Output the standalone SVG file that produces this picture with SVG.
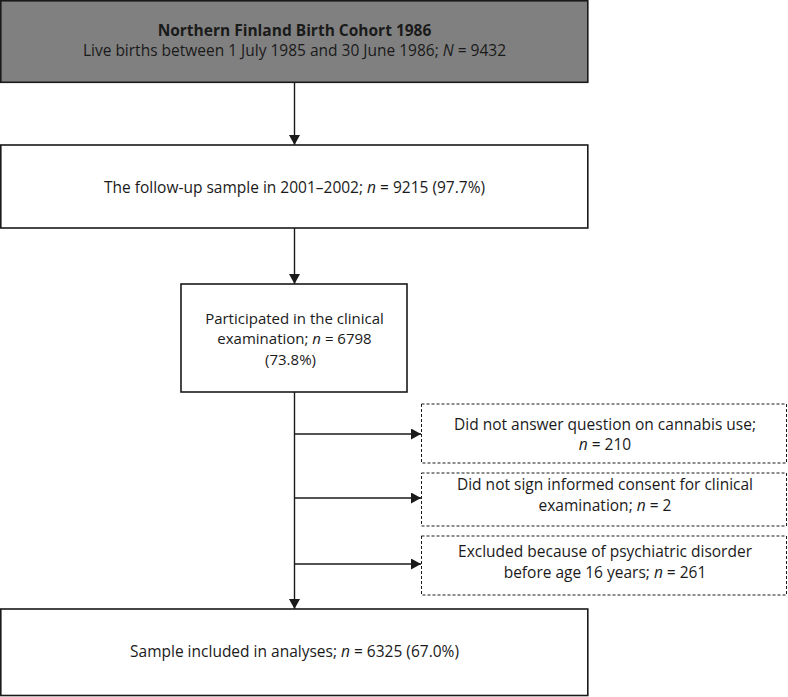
<svg xmlns="http://www.w3.org/2000/svg" width="788" height="697" viewBox="0 0 788 697">
<style>
  text { font-family: "Open Sans", "Liberation Sans", sans-serif; font-size: 15.5px; fill: #1a1a1a; text-anchor: middle; }
  .bold { font-weight: bold; }
  .small { font-size: 15px; }
  .box { fill: #ffffff; stroke: #1a1a1a; stroke-width: 1.6; }
  .grey { fill: #808080; stroke: #1a1a1a; stroke-width: 1.6; }
  .dash { fill: #ffffff; stroke: #1a1a1a; stroke-width: 1; stroke-dasharray: 3 2; }
  .conn { fill: none; stroke: #1a1a1a; stroke-width: 1.4; }
  .it { font-style: italic; }
</style>
<defs>
  <marker id="arr" markerUnits="userSpaceOnUse" markerWidth="10" markerHeight="11" refX="10" refY="5.5" orient="auto">
    <path d="M0,0 L10,5.5 L0,11 z" fill="#1a1a1a"/>
  </marker>
</defs>
<rect width="788" height="697" fill="#ffffff"/>

<g id="connectors">
  <line class="conn" x1="294.5" y1="82" x2="294.5" y2="145" marker-end="url(#arr)"/>
  <line class="conn" x1="294.5" y1="228" x2="294.5" y2="284" marker-end="url(#arr)"/>
  <line class="conn" x1="294.5" y1="392" x2="294.5" y2="609" marker-end="url(#arr)"/>
  <line class="conn" x1="294.5" y1="434" x2="421" y2="434" marker-end="url(#arr)"/>
  <line class="conn" x1="294.5" y1="498" x2="421" y2="498" marker-end="url(#arr)"/>
  <line class="conn" x1="294.5" y1="564" x2="421" y2="564" marker-end="url(#arr)"/>
</g>

<g id="node-cohort">
  <rect class="grey" x="0.8" y="0.8" width="587" height="81.5"/>
  <text class="bold" x="294.5" y="36">Northern Finland Birth Cohort 1986</text>
  <text x="294.5" y="56">Live births between 1 July 1985 and 30 June 1986; <tspan class="it">N</tspan> = 9432</text>
</g>

<g id="node-followup">
  <rect class="box" x="0.8" y="145" width="587" height="83"/>
  <text x="294.5" y="193">The follow-up sample in 2001–2002; <tspan class="it">n</tspan> = 9215 (97.7%)</text>
</g>

<g id="node-clinical">
  <rect class="box" x="181" y="284" width="226" height="108"/>
  <text class="small" x="294.5" y="323.5">Participated in the clinical</text>
  <text class="small" x="294.5" y="344">examination; <tspan class="it">n</tspan> = 6798</text>
  <text class="small" x="290.5" y="364.5">(73.8%)</text>
</g>

<g id="node-excl-cannabis">
  <rect class="dash" x="421.5" y="404" width="365" height="59"/>
  <text x="605" y="430">Did not answer question on cannabis use;</text>
  <text x="605" y="450"><tspan class="it">n</tspan> = 210</text>
</g>

<g id="node-excl-consent">
  <rect class="dash" x="421.5" y="473" width="365" height="53"/>
  <text x="605" y="490">Did not sign informed consent for clinical</text>
  <text x="605" y="511">examination; <tspan class="it">n</tspan> = 2</text>
</g>

<g id="node-excl-psych">
  <rect class="dash" x="421.5" y="536" width="365" height="59"/>
  <text x="605" y="557">Excluded because of psychiatric disorder</text>
  <text x="605" y="578">before age 16 years; <tspan class="it">n</tspan> = 261</text>
</g>

<g id="node-sample">
  <rect class="box" x="0.8" y="609" width="587" height="86.5"/>
  <text x="294.5" y="657">Sample included in analyses; <tspan class="it">n</tspan> = 6325 (67.0%)</text>
</g>
</svg>
